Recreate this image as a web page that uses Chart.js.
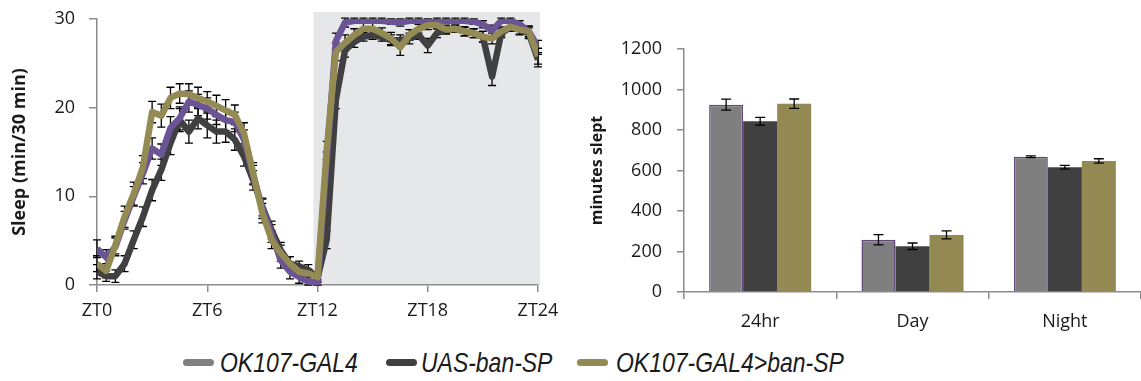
<!DOCTYPE html>
<html>
<head>
<meta charset="utf-8">
<script src="https://cdn.jsdelivr.net/npm/chart.js@4/dist/chart.umd.min.js"></script>
<style>
  html, body { margin: 0; padding: 0; background: #fff; width: 1141px; height: 381px; overflow: hidden; }
  #sleepWrap { position: absolute; left: 0; top: 0; width: 568px; height: 340px; }
  #barWrap { position: absolute; left: 570px; top: 0; width: 571px; height: 340px; }
  #legend { position: absolute; left: 0; top: 345px; width: 1141px; height: 36px;
            font-family: "Liberation Sans", Arial, sans-serif;
            font-style: italic; font-size: 28px; color: #1a1a1a; white-space: nowrap; }
  .swatch { position: absolute; top: 14px; width: 31px; height: 7px; border-radius: 3.5px; }
  .label { position: absolute; top: 1px; line-height: 34px; transform: scaleX(0.82); transform-origin: 0 50%; }
</style>
</head>
<body>
<div id="sleepWrap"><canvas id="sleep" width="568" height="340"></canvas></div>
<div id="barWrap"><canvas id="bars" width="571" height="340"></canvas></div>
<div id="legend"></div>
<script>
// ---- Sleep profile: minutes of sleep per 30-min bin across the day ----
const zt = [0, 0.5, 1, 1.5, 2, 2.5, 3, 3.5, 4, 4.5, 5, 5.5, 6, 6.5, 7, 7.5, 8, 8.5, 9, 9.5,
            10, 10.5, 11, 11.5, 12, 12.5, 13, 13.5, 14, 14.5, 15, 15.5, 16, 16.5, 17, 17.5,
            18, 18.5, 19, 19.5, 20, 20.5, 21, 21.5, 22, 22.5, 23, 23.5, 24];
const ztTicks = [0, 6, 12, 18, 24];
const lightsOff = [12, 24];

const ok107Sleep = [4.1, 3.1, 4.3, 7.3, 10.0, 12.6, 15.4, 14.7, 17.7, 18.8, 20.7, 20.3, 19.9, 19.2, 18.6, 18.4,
                    16.4, 12.4, 8.6, 5.8, 2.8, 1.5, 0.9, 0.4, 0.2, 14.0, 27.5, 29.6, 29.8, 29.8, 29.8, 29.8,
                    29.7, 29.6, 29.8, 29.8, 29.7, 29.8, 29.8, 29.8, 29.8, 29.7, 29.4, 28.7, 29.8, 29.8, 29.4, 28.6, 26.8];
const ok107Sem   = [1.0, 0.9, 1.0, 1.0, 1.1, 1.2, 1.2, 1.2, 1.3, 1.3, 1.2, 1.2, 1.2, 1.1, 1.2, 1.1,
                    1.1, 1.1, 1.1, 1.0, 0.9, 0.8, 0.7, 0.5, 0.4, 1.0, 0.9, 0.5, 0.3, 0.3, 0.3, 0.3,
                    0.3, 0.4, 0.3, 0.3, 0.3, 0.3, 0.3, 0.3, 0.3, 0.3, 0.4, 0.6, 0.3, 0.3, 0.4, 0.6, 0.8];

const uasSleep   = [1.5, 1.0, 1.0, 2.4, 5.1, 7.7, 10.7, 13.0, 16.0, 18.6, 17.3, 18.8, 18.0, 17.3, 17.3, 16.4,
                    14.5, 11.8, 8.8, 6.2, 3.9, 2.4, 2.1, 1.7, 0.8, 5.1, 20.9, 26.5, 27.4, 28.0, 28.2, 28.0,
                    27.6, 27.6, 27.8, 28.2, 27.0, 28.4, 28.8, 28.9, 28.6, 28.4, 28.0, 23.5, 28.4, 29.1, 28.8, 28.4, 25.4];
const uasSem     = [0.8, 0.6, 0.7, 0.9, 1.0, 1.1, 1.2, 1.2, 1.3, 1.3, 1.3, 1.2, 1.4, 1.3, 1.2, 1.2,
                    1.1, 1.1, 1.0, 1.0, 0.9, 0.8, 0.6, 0.6, 0.5, 1.0, 1.0, 0.8, 0.6, 0.5, 0.5, 0.5,
                    0.6, 0.6, 0.6, 0.5, 0.8, 0.5, 0.4, 0.4, 0.5, 0.5, 0.6, 1.0, 0.5, 0.4, 0.5, 0.6, 0.8];

const crossSleep = [2.4, 1.6, 4.5, 7.7, 10.3, 13.3, 19.5, 19.1, 21.1, 21.6, 21.5, 21.1, 20.7, 20.2, 19.7, 19.2,
                    17.1, 12.6, 8.1, 5.1, 3.6, 2.4, 1.5, 1.3, 0.9, 15.2, 26.3, 27.3, 28.2, 28.9, 28.9, 28.4,
                    27.8, 26.8, 28.2, 28.9, 29.3, 29.3, 28.8, 28.9, 28.6, 28.4, 28.0, 27.8, 28.6, 29.1, 28.8, 28.6, 25.8];
const crossSem   = [0.9, 0.8, 1.0, 1.2, 1.3, 1.3, 1.2, 1.3, 1.2, 1.1, 1.2, 1.2, 1.1, 1.2, 1.2, 1.1,
                    1.2, 1.2, 1.1, 1.0, 0.9, 0.8, 0.6, 0.5, 0.5, 1.0, 1.0, 0.9, 0.7, 0.6, 0.6, 0.6,
                    0.7, 0.9, 0.6, 0.5, 0.5, 0.4, 0.5, 0.4, 0.5, 0.5, 0.6, 0.6, 0.5, 0.5, 0.6, 0.6, 0.9];

// ---- Total sleep per period ----
const periods    = ['24hr', 'Day', 'Night'];
const ok107Total = [925, 258, 668];
const ok107TotErr= [27, 25, 4];
const uasTotal   = [843, 226, 616];
const uasTotErr  = [19, 16, 9];
const crossTotal = [930, 282, 647];
const crossTotErr= [23, 20, 11];

const genotypes  = ['OK107-GAL4', 'UAS-ban-SP', 'OK107-GAL4>ban-SP'];
const swatchColors = ['#808080', '#404040', '#948a54'];
const keySwatchX = [183, 386, 577];
const keyTextX   = [220, 421, 616];

const AXIS = '#8c8c8c';
const TEXT = '#1a1a1a';
const FONT = '"Open Sans", "Noto Sans", sans-serif';

function pts(ys) { return ys.map((v, i) => ({ x: zt[i], y: v })); }

// grey band marking the dark phase
const nightShade = {
  id: 'nightShade',
  beforeDraw(chart) {
    const { ctx, chartArea, scales: { x, y } } = chart;
    const l = x.getPixelForValue(lightsOff[0]) - 4;
    const r = x.getPixelForValue(lightsOff[1]) + 2;
    const t = y.getPixelForValue(y.max) - 7;
    ctx.save();
    ctx.fillStyle = '#e6e7e9';
    ctx.fillRect(l, t, r - l, chartArea.bottom - t);
    ctx.restore();
  }
};

// vertical SEM whiskers with caps
function drawWhiskers(chart, capHalf) {
  const { ctx } = chart;
  const yS = chart.scales.y;
  ctx.save();
  ctx.strokeStyle = '#000';
  ctx.lineWidth = 1.3;
  chart.data.datasets.forEach((ds, di) => {
    if (!ds.errors) return;
    const meta = chart.getDatasetMeta(di);
    meta.data.forEach((el, i) => {
      const v = typeof ds.data[i] === 'object' ? ds.data[i].y : ds.data[i];
      const e = ds.errors[i];
      const x = el.x;
      const y1 = yS.getPixelForValue(v + e);
      const y2 = yS.getPixelForValue(Math.max(v - e, 0));
      ctx.beginPath();
      ctx.moveTo(x, y1); ctx.lineTo(x, y2);
      ctx.moveTo(x - capHalf, y1); ctx.lineTo(x + capHalf, y1);
      ctx.moveTo(x - capHalf, y2); ctx.lineTo(x + capHalf, y2);
      ctx.stroke();
    });
  });
  ctx.restore();
}

const lineWhiskers = { id: 'lineWhiskers', beforeDatasetsDraw(chart) { drawWhiskers(chart, 4); } };
const barWhiskers  = { id: 'barWhiskers',  afterDatasetsDraw(chart)  { drawWhiskers(chart, 5); } };

const lineDs = (label, data, err, color, order) => ({
  label, data: pts(data), errors: err, borderColor: color, backgroundColor: color,
  borderWidth: 6.5, pointRadius: 0, tension: 0, borderJoinStyle: 'round', order
});

// fixed axis boxes so the plot area sits exactly where wanted
const fixY = w => s => { s.width = w; s.paddingTop = 0; s.paddingBottom = 0; };
const fixX = h => s => { s.height = h; s.paddingLeft = 0; s.paddingRight = 0; };

new Chart(document.getElementById('sleep'), {
  type: 'line',
  data: {
    datasets: [
      lineDs(genotypes[2], crossSleep, crossSem, '#948a54', 0),
      lineDs(genotypes[0], ok107Sleep, ok107Sem, '#6b5496', 1),
      lineDs(genotypes[1], uasSleep, uasSem, '#404040', 2)
    ]
  },
  options: {
    responsive: false, animation: false, devicePixelRatio: 1,
    layout: { autoPadding: false, padding: { top: 19, right: 30, left: 0, bottom: 0 } },
    plugins: { legend: { display: false }, tooltip: { enabled: false } },
    scales: {
      x: {
        type: 'linear', min: 0, max: 24,
        afterFit: fixX(55),
        afterBuildTicks(s) { s.ticks = ztTicks.map(v => ({ value: v })); },
        ticks: { callback: v => 'ZT' + v, color: TEXT, font: { family: FONT, size: 18 }, padding: 8, maxRotation: 0 },
        grid: { drawOnChartArea: false, drawTicks: true, tickLength: 7, color: AXIS, lineWidth: 1.5 },
        border: { display: true, color: AXIS, width: 1.5 }
      },
      y: {
        min: 0, max: 30,
        afterFit: fixY(97),
        ticks: { stepSize: 10, color: TEXT, font: { family: FONT, size: 18 }, padding: 14 },
        grid: { drawOnChartArea: false, drawTicks: true, tickLength: 8, color: AXIS, lineWidth: 1.5 },
        border: { display: true, color: AXIS, width: 1.5 },
        title: { display: true, text: 'Sleep (min/30 min)', color: TEXT,
                 font: { family: FONT, size: 18, weight: 'bold' }, padding: { top: 9, bottom: 0 } }
      }
    }
  },
  plugins: [nightShade, lineWhiskers]
});

const barDs = (label, data, err, color, border) => ({
  label, data, errors: err, backgroundColor: color,
  borderColor: border || color, borderWidth: border ? 1.5 : 0,
  categoryPercentage: 0.67, barPercentage: 1.0
});

new Chart(document.getElementById('bars'), {
  type: 'bar',
  data: {
    labels: periods,
    datasets: [
      barDs(genotypes[0], ok107Total, ok107TotErr, '#7f7f7f', '#5f497a'),
      barDs(genotypes[1], uasTotal, uasTotErr, '#404040'),
      barDs(genotypes[2], crossTotal, crossTotErr, '#938953')
    ]
  },
  options: {
    responsive: false, animation: false, devicePixelRatio: 1,
    layout: { autoPadding: false, padding: { top: 49, right: 0, left: 0, bottom: 0 } },
    plugins: { legend: { display: false }, tooltip: { enabled: false } },
    scales: {
      x: {
        afterFit: fixX(48),
        ticks: { color: TEXT, font: { family: FONT, size: 18 }, padding: 12 },
        grid: { offset: true, drawOnChartArea: false, drawTicks: true, tickLength: 7, color: AXIS, lineWidth: 1.5 },
        border: { display: true, color: AXIS, width: 1.5 }
      },
      y: {
        min: 0, max: 1200,
        afterFit: fixY(114),
        ticks: { stepSize: 200, callback: v => String(v), color: TEXT, font: { family: FONT, size: 18 }, padding: 15 },
        grid: { drawOnChartArea: false, drawTicks: true, tickLength: 7, color: AXIS, lineWidth: 1.5 },
        border: { display: true, color: AXIS, width: 1.5 },
        title: { display: true, text: 'minutes slept', color: TEXT,
                 font: { family: FONT, size: 16, weight: 'bold' }, padding: { top: 18, bottom: 0 } }
      }
    }
  },
  plugins: [barWhiskers]
});

// shared key for both panels
const legend = document.getElementById('legend');
genotypes.forEach((g, i) => {
  const sw = document.createElement('span');
  sw.className = 'swatch';
  sw.style.left = keySwatchX[i] + 'px';
  sw.style.background = swatchColors[i];
  const tx = document.createElement('span');
  tx.className = 'label';
  tx.style.left = keyTextX[i] + 'px';
  tx.textContent = g;
  legend.appendChild(sw);
  legend.appendChild(tx);
});
</script>
</body>
</html>
